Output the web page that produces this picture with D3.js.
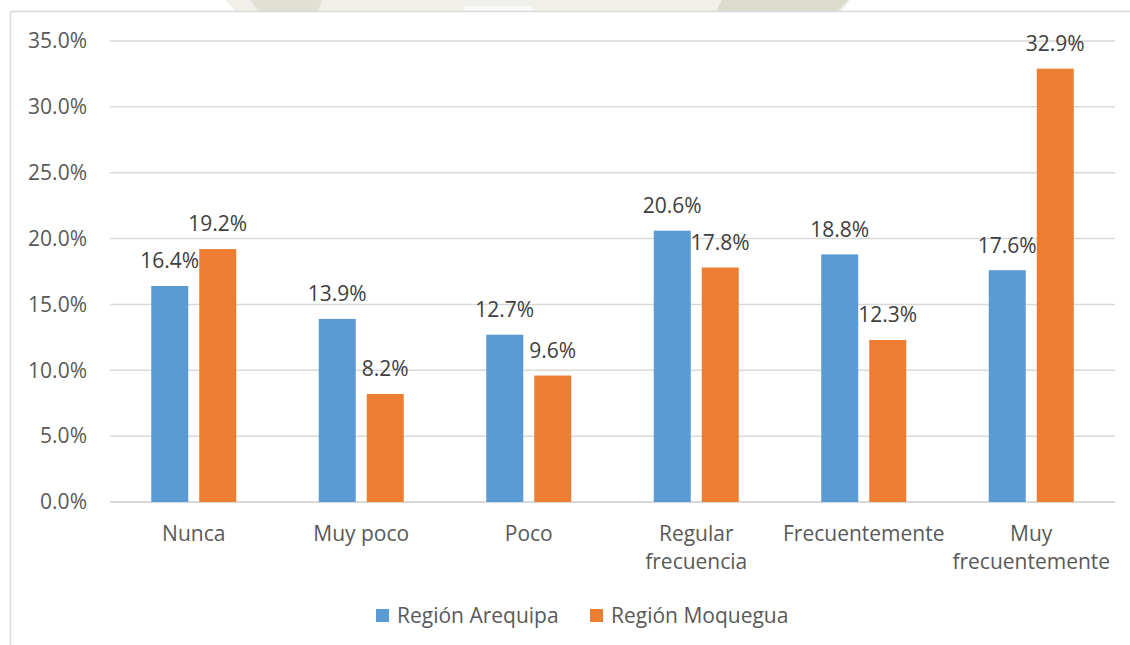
<!DOCTYPE html>
<html>
<head>
<meta charset="utf-8">
<script src="https://cdn.jsdelivr.net/npm/d3@7"></script>
<style>
  html, body { margin: 0; padding: 0; background: #fff; }
  svg { display: block; font-family: "Open Sans", sans-serif; }
</style>
</head>
<body>
<svg id="chart" width="1130" height="645"></svg>
<script>
// Frequency categories (x-axis), one line per array entry
const categories = [
  ["Nunca"],
  ["Muy poco"],
  ["Poco"],
  ["Regular", "frecuencia"],
  ["Frecuentemente"],
  ["Muy", "frecuentemente"]
];
const seriesNames = ["Región Arequipa", "Región Moquegua"];
const arequipa = [16.4, 13.9, 12.7, 20.6, 18.8, 17.6];
const moquegua = [19.2, 8.2, 9.6, 17.8, 12.3, 32.9];
const yTicks = [0, 5, 10, 15, 20, 25, 30, 35];
const colors = ["#5b9bd5", "#ed7d31"];

const svg = d3.select("#chart");
const W = 1130, H = 645;
const plot = { left: 110, right: 1115, top: 41, bottom: 502 };
const FS = 21;

// faint background shapes above the chart frame
const bg = svg.append("g");
bg.append("path").attr("d", "M225,0 L850,0 L842,11 L235,11 Z").attr("fill", "#f0efea");
bg.append("path").attr("d", "M250,0 L322,0 L318,11 L258,11 Z").attr("fill", "#e0e0d3");
bg.append("path").attr("d", "M722,0 L848,0 L838,11 L716,11 Z").attr("fill", "#dcdccd");
bg.append("path").attr("d", "M466,6 L532,6 L536,11 L462,11 Z").attr("fill", "#f8f8f4");

// chart frame (top and left edges)
svg.append("rect").attr("x", 0).attr("y", 11).attr("width", W).attr("height", H).attr("fill", "#fff");
svg.append("line").attr("x1", 10.5).attr("x2", W).attr("y1", 11.5).attr("y2", 11.5)
  .attr("stroke", "#d9d9d9").attr("stroke-width", 1.5);
svg.append("line").attr("x1", 10.5).attr("x2", 10.5).attr("y1", 11.5).attr("y2", H)
  .attr("stroke", "#d9d9d9").attr("stroke-width", 1.5);

const x0 = d3.scaleBand().domain(d3.range(categories.length))
  .range([plot.left, plot.right]).paddingInner(0).paddingOuter(0);
const y = d3.scaleLinear().domain([0, 35]).range([plot.bottom, plot.top]);

const barW = 37, gap = 11;

// gridlines
svg.append("g").selectAll("line").data(yTicks).join("line")
  .attr("x1", plot.left).attr("x2", plot.right)
  .attr("y1", d => y(d)).attr("y2", d => y(d))
  .attr("stroke", "#d9d9d9").attr("stroke-width", d => d === 0 ? 2 : 1.5);

// y tick labels
svg.append("g").selectAll("text").data(yTicks).join("text")
  .attr("x", 87).attr("y", d => y(d)).attr("dy", "0.35em")
  .attr("text-anchor", "end").attr("fill", "#595959").attr("font-size", FS)
  .text(d => d.toFixed(1) + "%");

// bars
const series = [arequipa, moquegua];
series.forEach((vals, s) => {
  const g = svg.append("g");
  const xPos = i => x0(i) + x0.bandwidth() / 2 + (s === 0 ? -gap / 2 - barW : gap / 2);
  g.selectAll("rect").data(vals).join("rect")
    .attr("x", (d, i) => xPos(i))
    .attr("y", d => y(d))
    .attr("width", barW)
    .attr("height", d => y(0) - y(d))
    .attr("fill", colors[s]);
  g.selectAll("text").data(vals).join("text")
    .attr("x", (d, i) => xPos(i) + barW / 2)
    .attr("y", d => y(d) - 25).attr("dy", "0.35em")
    .attr("text-anchor", "middle").attr("fill", "#404040").attr("font-size", FS)
    .text(d => d.toFixed(1) + "%");
});

// category labels
const cat = svg.append("g").selectAll("text").data(categories).join("text")
  .attr("x", (d, i) => x0(i) + x0.bandwidth() / 2)
  .attr("y", 534)
  .attr("text-anchor", "middle").attr("fill", "#595959").attr("font-size", FS);
cat.selectAll("tspan").data(d => d).join("tspan")
  .attr("x", function() { return d3.select(this.parentNode).attr("x"); })
  .attr("dy", (d, j) => j === 0 ? "0.35em" : 28)
  .text(d => d);

// legend
const legendX = [376, 590];
const leg = svg.append("g");
seriesNames.forEach((name, s) => {
  leg.append("rect").attr("x", legendX[s]).attr("y", 609).attr("width", 13).attr("height", 13)
    .attr("fill", colors[s]);
  leg.append("text").attr("x", legendX[s] + 21).attr("y", 615.5).attr("dy", "0.35em")
    .attr("fill", "#595959").attr("font-size", FS).text(name);
});
</script>
</body>
</html>
